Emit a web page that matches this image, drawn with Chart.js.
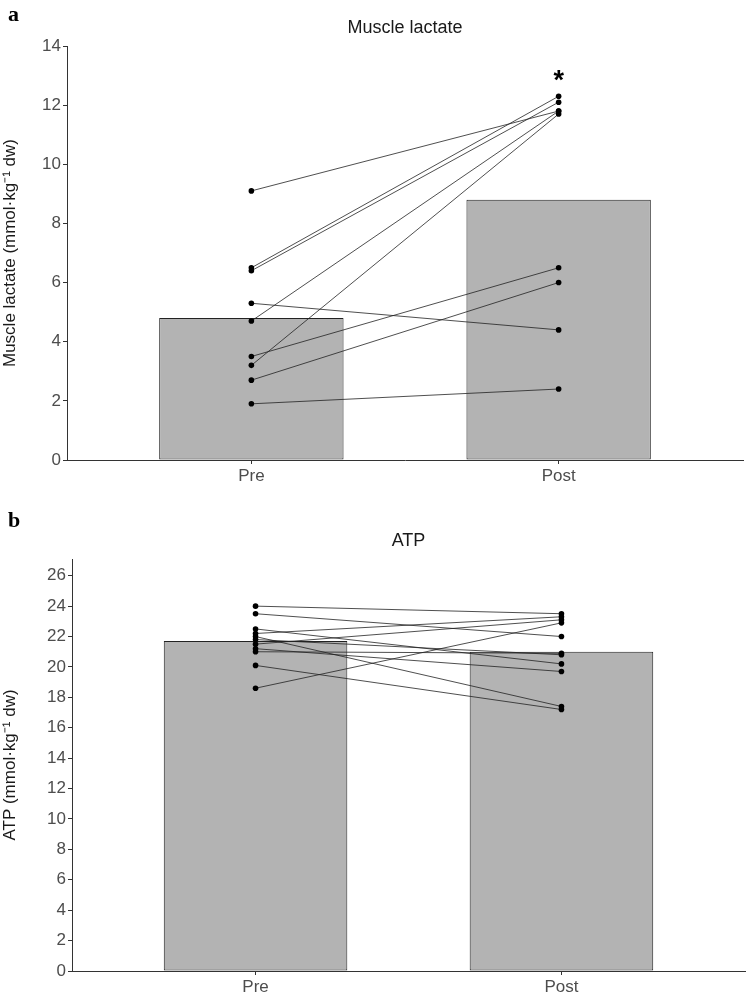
<!DOCTYPE html>
<html>
<head>
<meta charset="utf-8">
<script src="https://cdn.jsdelivr.net/npm/chart.js@4/dist/chart.umd.min.js"></script>
<style>
  body { margin:0; background:#fff; width:749px; height:998px; position:relative; overflow:hidden; }
  .panel { position:absolute; left:0; width:749px; }
  .tag { position:absolute; left:8px; font-family:"Liberation Serif","DejaVu Serif",serif; font-weight:bold; font-size:22px; color:#000; }
</style>
</head>
<body>
<div class="panel" style="top:0;height:500px"><canvas id="lactate"></canvas></div>
<div class="panel" style="top:500px;height:498px"><canvas id="atp"></canvas></div>
<div class="tag" style="top:1px">a</div>
<div class="tag" style="top:507px">b</div>
<script>
// ---------------- DATA ----------------
const categories = ["Pre", "Post"];

const lactatePre  = [9.1, 6.5, 6.4, 5.3, 4.7, 3.5, 3.2, 2.7, 1.9];
const lactatePost = [11.8, 12.3, 12.1, 4.4, 11.8, 6.5, 11.7, 6.0, 2.4];
const lactateMeans = [4.8, 8.8];
const lactateTicks = [0, 2, 4, 6, 8, 10, 12, 14];

const atpPre  = [24.0, 23.5, 22.5, 22.2, 22.0, 21.8, 21.5, 21.2, 21.0, 20.1, 18.6];
const atpPost = [23.5, 22.0, 20.2, 23.3, 17.4, 20.8, 23.1, 19.7, 20.9, 17.2, 22.9];
const atpMeans = [21.7, 21.0];
const atpTicks = [0, 2, 4, 6, 8, 10, 12, 14, 16, 18, 20, 22, 24, 26];

const sigMark = "*";   // significance above Post in panel a
const sigAt = 13.0;

// ---------------- HELPERS ----------------
const tickFont = { family: "Liberation Sans, Arial, sans-serif", size: 17 };
const titleFont = { family: "Liberation Sans, Arial, sans-serif", size: 17 };

function buildDatasets(pre, post, means){
    const sets = [{
        type: "bar",
        data: means.map((m, i) => ({ x: i + 1, y: m })),
        backgroundColor: "#b3b3b3",
        borderColor: "#222",
        borderWidth: 1,
        borderSkipped: false,
        barPercentage: 0.6,
        categoryPercentage: 1,
        order: 1
    }];
    pre.forEach((v, i) => {
        sets.push({
            type: "line",
            data: [{ x: 1, y: v }, { x: 2, y: post[i] }],
            borderColor: "#222",
            borderWidth: 0.8,
            pointRadius: 2.8,
            pointBackgroundColor: "#000",
            pointBorderWidth: 0,
            fill: false,
            order: 0
        });
    });
    return sets;
}

const sigPlugin = {
    id: "sig",
    afterDatasetsDraw(chart, args, opts){
        if (!opts.text) return;
        const ctx = chart.ctx;
        ctx.save();
        ctx.font = "bold 27px Liberation Sans, Arial, sans-serif";
        ctx.fillStyle = "#000";
        ctx.textAlign = "center";
        ctx.textBaseline = "middle";
        ctx.fillText(opts.text, chart.scales.x.getPixelForValue(2), chart.scales.y.getPixelForValue(opts.at) + 6);
        ctx.restore();
    }
};

function makePanel(id, o){
    new Chart(document.getElementById(id), {
        type: "bar",
        data: { datasets: buildDatasets(o.pre, o.post, o.means) },
        plugins: [sigPlugin],
        options: {
            responsive: true,
            maintainAspectRatio: false,
            animation: false,
            layout: { padding: { left: 0, right: o.padRight, top: 0, bottom: 0 } },
            plugins: {
                legend: { display: false },
                tooltip: { enabled: false },
                title: {
                    display: true,
                    text: o.title,
                    fullSize: false,
                    color: "#1a1a1a",
                    font: { family: "Liberation Sans, Arial, sans-serif", size: 18, weight: "normal" },
                    padding: o.titlePad
                },
                sig: { text: o.sig, at: sigAt }
            },
            scales: {
                x: {
                    type: "linear",
                    min: 0.4,
                    max: 2.6,
                    offset: false,
                    afterBuildTicks: s => { s.ticks = categories.map((c, i) => ({ value: i + 1 })); },
                    afterFit: s => { s.height = o.xHeight; },
                    ticks: {
                        color: "#4d4d4d",
                        font: tickFont,
                        padding: 2,
                        autoSkip: false,
                        maxRotation: 0,
                        callback: v => categories[v - 1]
                    },
                    grid: { drawOnChartArea: false, offset: false, tickLength: 4, tickColor: "#333" },
                    border: { color: "#333", width: 1 }
                },
                y: {
                    min: 0,
                    max: o.yMax,
                    afterBuildTicks: s => { s.ticks = o.ticks.map(v => ({ value: v })); },
                    afterFit: s => { s.width = o.yWidth; },
                    ticks: { color: "#4d4d4d", font: tickFont, padding: 2 },
                    grid: { drawOnChartArea: false, tickLength: 4, tickColor: "#333" },
                    border: { color: "#333", width: 1 },
                    title: {
                        display: true,
                        text: o.yTitle,
                        color: "#1a1a1a",
                        font: titleFont,
                        padding: { top: 0, bottom: 5 }
                    }
                }
            }
        }
    });
}

// ---------------- PANELS ----------------
makePanel("lactate", {
    pre: lactatePre, post: lactatePost, means: lactateMeans, ticks: lactateTicks,
    yMax: 14, title: "Muscle lactate", yTitle: "Muscle lactate (mmol·kg\u207B\u00B9 dw)",
    titlePad: { top: 17, bottom: 7.4 }, yWidth: 67, xHeight: 40, padRight: 6, sig: sigMark
});

makePanel("atp", {
    pre: atpPre, post: atpPost, means: atpMeans, ticks: atpTicks,
    yMax: 27.1, title: "ATP", yTitle: "ATP (mmol·kg\u207B\u00B9 dw)",
    titlePad: { top: 30, bottom: 7.4 }, yWidth: 72, xHeight: 27, padRight: 2, sig: ""
});
</script>
</body>
</html>
